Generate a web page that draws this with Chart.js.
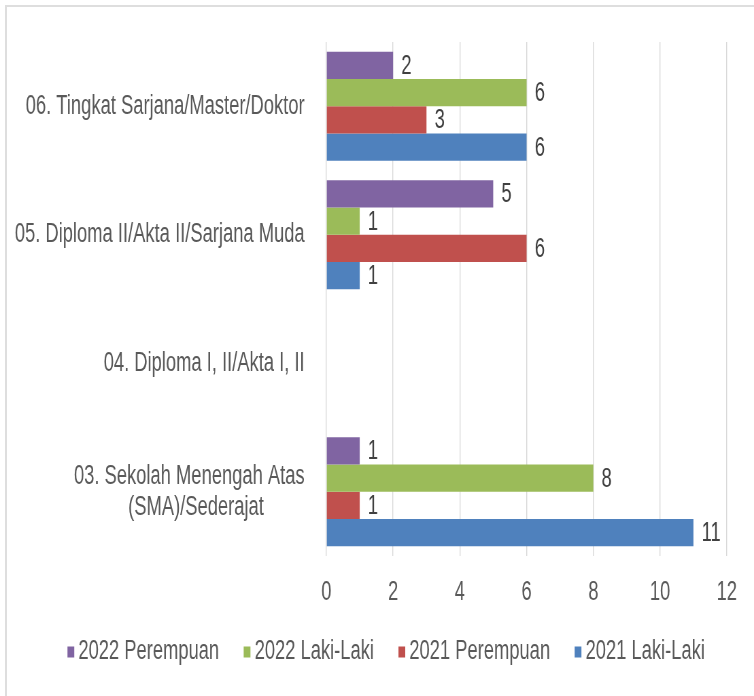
<!DOCTYPE html>
<html>
<head>
<meta charset="utf-8">
<script src="https://cdn.jsdelivr.net/npm/chart.js@4.4.1/dist/chart.umd.min.js"></script>
<style>
  body { margin: 0; background: #fff; }
  #wrap { position: relative; width: 754px; height: 696px; overflow: hidden; }
  #frame { position: absolute; left: 5px; top: 5px; width: 800px; height: 800px; border: 2px solid #dedede; }
  /* the original picture is squeezed sideways, so the canvas is drawn wide and shown at 754px */
  #eduChart { position: absolute; left: 0; top: 0; width: 754px; height: 696px; }
</style>
</head>
<body>
<div id="wrap">
  <div id="frame"></div>
  <canvas id="eduChart" width="1109" height="696" style="width:754px;height:696px"></canvas>
</div>
<script>
const categories = [
  '06. Tingkat Sarjana/Master/Doktor',
  '05. Diploma II/Akta II/Sarjana Muda',
  '04. Diploma I, II/Akta I, II',
  ['03. Sekolah Menengah Atas', '(SMA)/Sederajat        ']
];
const seriesNames = ['2022 Perempuan', '2022 Laki-Laki', '2021 Perempuan', '2021 Laki-Laki'];
const perempuan2022 = [2, 5, null, 1];
const lakiLaki2022 = [6, 1, null, 8];
const perempuan2021 = [3, 6, null, 1];
const lakiLaki2021 = [6, 1, null, 11];
const xTicks = [0, 2, 4, 6, 8, 10, 12];

const colors = ['#8064A2', '#9BBB59', '#C0504D', '#4F81BD'];
const FONT = "'Liberation Sans', Arial, sans-serif";
const FONT_SIZE = 27;

// value labels at the end of each bar
const valueLabels = {
  id: 'valueLabels',
  afterDatasetsDraw(chart) {
    const ctx = chart.ctx;
    ctx.save();
    ctx.font = FONT_SIZE + 'px ' + FONT;
    ctx.fillStyle = '#404040';
    ctx.textAlign = 'left';
    ctx.textBaseline = 'middle';
    chart.data.datasets.forEach((ds, i) => {
      chart.getDatasetMeta(i).data.forEach((bar, j) => {
        const v = ds.data[j];
        if (v === null || v === undefined) return;
        ctx.fillText(String(v), bar.x + 12, bar.y + 1);
      });
    });
    ctx.restore();
  }
};

// legend drawn by hand so the marker sits close to its text
const smallLegend = {
  id: 'smallLegend',
  afterDraw(chart) {
    const ctx = chart.ctx;
    ctx.save();
    ctx.font = FONT_SIZE + 'px ' + FONT;
    ctx.textBaseline = 'middle';
    ctx.textAlign = 'left';
    const items = chart.data.datasets.map(ds => ({ label: ds.label, color: ds.backgroundColor, w: ctx.measureText(ds.label).width }));
    const boxW = 10, boxH = 11, gap = 6, itemGap = 36;
    let total = 0;
    items.forEach((it, i) => { total += boxW + gap + it.w + (i < items.length - 1 ? itemGap : 0); });
    let x = 568 - total / 2;
    const y = 652;
    items.forEach(it => {
      ctx.fillStyle = it.color;
      ctx.fillRect(x, y - boxH / 2, boxW, boxH);
      x += boxW + gap;
      ctx.fillStyle = '#595959';
      ctx.fillText(it.label, x, y);
      x += it.w + itemGap;
    });
    ctx.restore();
  }
};

const seriesData = [perempuan2022, lakiLaki2022, perempuan2021, lakiLaki2021];

new Chart(document.getElementById('eduChart'), {
  type: 'bar',
  data: {
    labels: categories,
    datasets: seriesNames.map((name, i) => ({
      label: name,
      data: seriesData[i],
      backgroundColor: colors[i],
      categoryPercentage: 0.85,
      barPercentage: 1.0
    }))
  },
  options: {
    indexAxis: 'y',
    responsive: false,
    devicePixelRatio: 1,
    animation: false,
    layout: { padding: { top: 42, right: 40, left: 0, bottom: 80 } },
    plugins: {
      legend: { display: false },
      tooltip: { enabled: false }
    },
    scales: {
      x: {
        min: 0,
        max: 12,
        afterBuildTicks(scale) { scale.ticks = xTicks.map(v => ({ value: v })); },
        afterFit(scale) { scale.height = 60; scale.paddingLeft = 0; scale.paddingRight = 0; },
        grid: { color: '#d9d9d9', lineWidth: 1.4, drawTicks: false },
        border: { display: false },
        ticks: { padding: 20, color: '#595959', font: { family: FONT, size: FONT_SIZE } }
      },
      y: {
        afterFit(scale) { scale.width = 480; scale.paddingTop = 0; scale.paddingBottom = 0; },
        grid: { display: false },
        border: { display: false },
        ticks: { padding: 24, color: '#595959', font: { family: FONT, size: FONT_SIZE, lineHeight: 1.15 } }
      }
    }
  },
  plugins: [valueLabels, smallLegend]
});
</script>
</body>
</html>
